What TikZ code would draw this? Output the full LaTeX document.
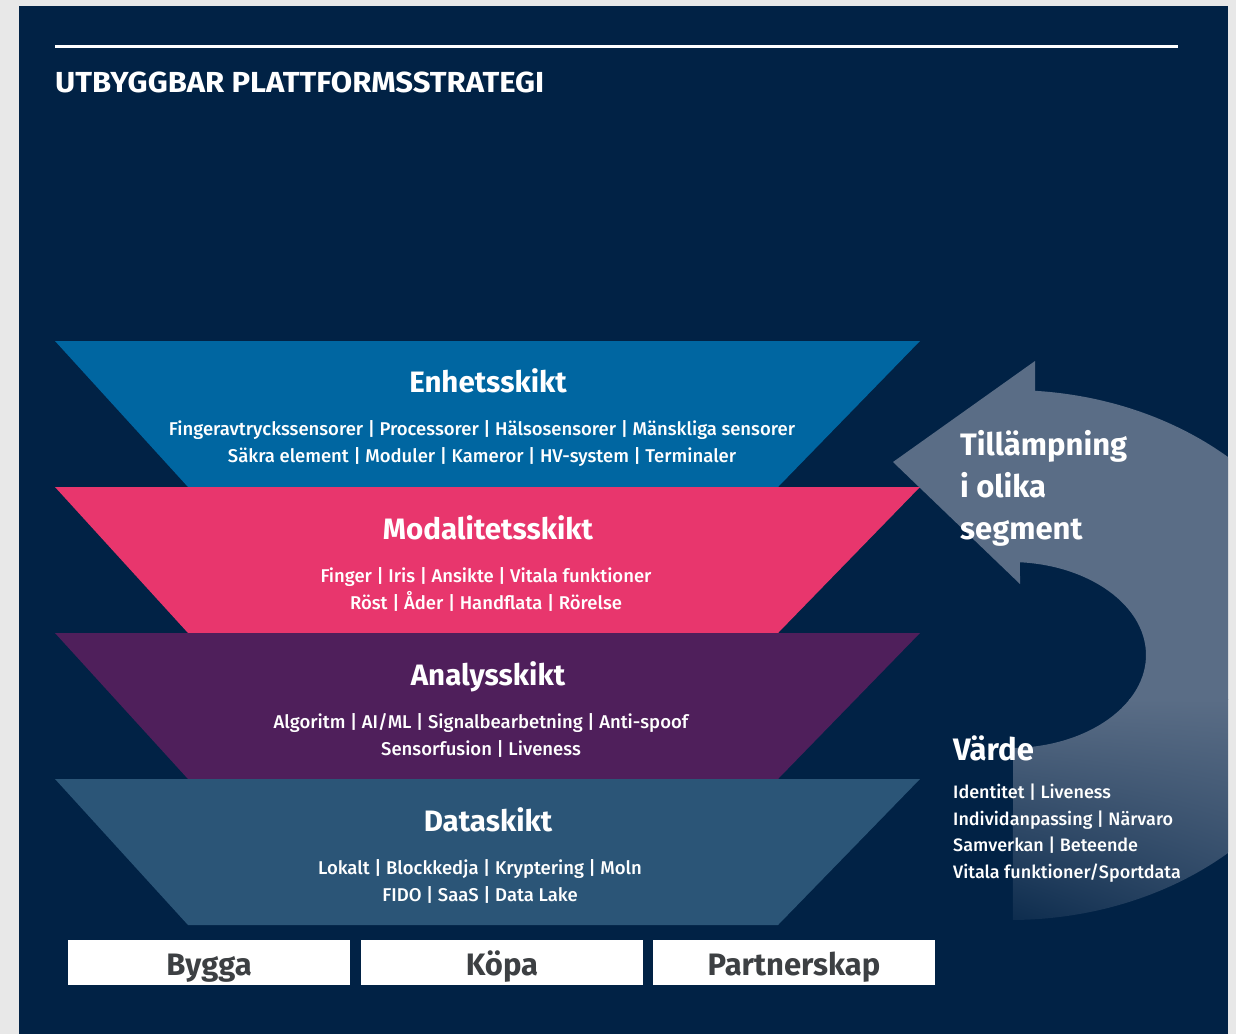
\documentclass[tikz,border=0pt]{standalone}
\usepackage{fontspec}
\setmainfont{Fira Sans}
\newfontfamily\medfont{Fira Sans Medium}
\usetikzlibrary{calc,shadings}
\definecolor{pagegray}{RGB}{232,232,232}
\definecolor{navy}{RGB}{1,34,69}
\definecolor{layerblue}{RGB}{0,102,161}
\definecolor{layerpink}{RGB}{232,54,109}
\definecolor{layerpurple}{RGB}{79,31,91}
\definecolor{layerslate}{RGB}{43,85,119}
\definecolor{arrowc}{RGB}{90,109,134}
\definecolor{boxtext}{RGB}{61,64,67}
\begin{document}
\begin{tikzpicture}[x=1pt,y=-1pt,
  layertitle/.style={text=white,anchor=base,inner sep=0pt,font=\fontsize{29.5}{30}\selectfont\bfseries},
  layerline/.style={text=white,anchor=base,inner sep=0pt,font=\fontsize{18.5}{22}\selectfont\medfont},
  sidetitle/.style={text=white,anchor=base west,inner sep=0pt,font=\fontsize{31}{36}\selectfont\bfseries},
  valtitle/.style={text=white,anchor=base west,inner sep=0pt,font=\fontsize{31}{34}\selectfont\bfseries},
  valline/.style={text=white,anchor=base west,inner sep=0pt,font=\fontsize{18}{22}\selectfont\medfont},
  choicebox/.style={fill=white,draw=none,minimum width=282pt,minimum height=45pt,inner sep=0pt,anchor=north west},
  choicetext/.style={text=boxtext,anchor=base,inner sep=0pt,font=\fontsize{31}{34}\selectfont\bfseries}]
\useasboundingbox (0,0) rectangle (1236,1034);
\fill[pagegray] (0,0) rectangle (1236,1034);
\fill[navy] (19,6) rectangle (1228,1034);
% top rule and title
\coordinate (ruleL) at (55,46);
\coordinate (ruleR) at (1178,46);
\draw[white,line width=3pt] (ruleL) -- (ruleR);
\node[text=white,anchor=base west,inner sep=0pt,font=\fontsize{29}{30}\selectfont\bfseries] (title) at (55,92) {\scalebox{1.07}[1]{UTBYGGBAR PLATTFORMSSTRATEGI}};
% curved arrow
\begin{scope}
\clip (19,6) rectangle (1228,1034);
\clip ([shift={(-85.6:328 and 265)}]1010,655) arc[start angle=-85.6,end angle=89.5,x radius=328,y radius=265]
  -- ([shift={(88.7:136 and 93)}]1010,655) arc[start angle=88.7,end angle=-85.8,x radius=136,y radius=93]
  -- (1020,584) -- (893,462) -- (1035,361) -- cycle;
\fill[arrowc] (880,350) rectangle (1240,700);
\shade[upper left=arrowc,upper right=arrowc,lower left=arrowc!10!navy,lower right=arrowc!45!navy] (1000,699) rectangle (1240,925);
\end{scope}
% layers
\foreach \y/\c in {341/layerblue,487/layerpink,633/layerpurple,779/layerslate}{
  \fill[\c] (55,\y) -- (920,\y) -- (778,\y+146) -- (188,\y+146) -- cycle;
}
\node[layertitle] (t1) at (488,392.5) {Enhetsskikt};
\node[layerline] (t1a) at (482,435.5) {Fingeravtryckssensorer | Processorer | Hälsosensorer | Mänskliga sensorer};
\node[layerline] (t1b) at (482,462) {Säkra element | Moduler | Kameror | HV-system | Terminaler};
\node[layertitle] (t2) at (488,539) {Modalitetsskikt};
\node[layerline] (t2a) at (486,582) {Finger | Iris | Ansikte | Vitala funktioner};
\node[layerline] (t2b) at (486,609) {Röst | Åder | Handflata | Rörelse};
\node[layertitle] (t3) at (488,685) {Analysskikt};
\node[layerline] (t3a) at (481,728.5) {Algoritm | AI/ML | Signalbearbetning | Anti-spoof};
\node[layerline] (t3b) at (481,755) {Sensorfusion | Liveness};
\node[layertitle] (t4) at (488,831) {Dataskikt};
\node[layerline] (t4a) at (480,874.5) {Lokalt | Blockkedja | Kryptering | Moln};
\node[layerline] (t4b) at (480,901) {FIDO | SaaS | Data Lake};
% arrow text
\node[sidetitle] (s1) at (960,455) {Tillämpning};
\node[sidetitle] (s2) at (960,497) {i olika};
\node[sidetitle] (s3) at (960,539) {segment};
% value
\node[valtitle] (v0) at (953,760) {Värde};
\node[valline] (v1) at (953,798) {Identitet | Liveness};
\node[valline] (v2) at (953,825) {Individanpassing | Närvaro};
\node[valline] (v3) at (953,851) {Samverkan | Beteende};
\node[valline] (v4) at (953,878) {Vitala funktioner/Sportdata};
% boxes
\node[choicebox] (b1) at (68,940) {};
\node[choicebox] (b2) at (361,940) {};
\node[choicebox] (b3) at (653,940) {};
\node[choicetext] at (209,975) {Bygga};
\node[choicetext] at (502,975) {Köpa};
\node[choicetext] at (794,975) {Partnerskap};
\end{tikzpicture}
\end{document}
